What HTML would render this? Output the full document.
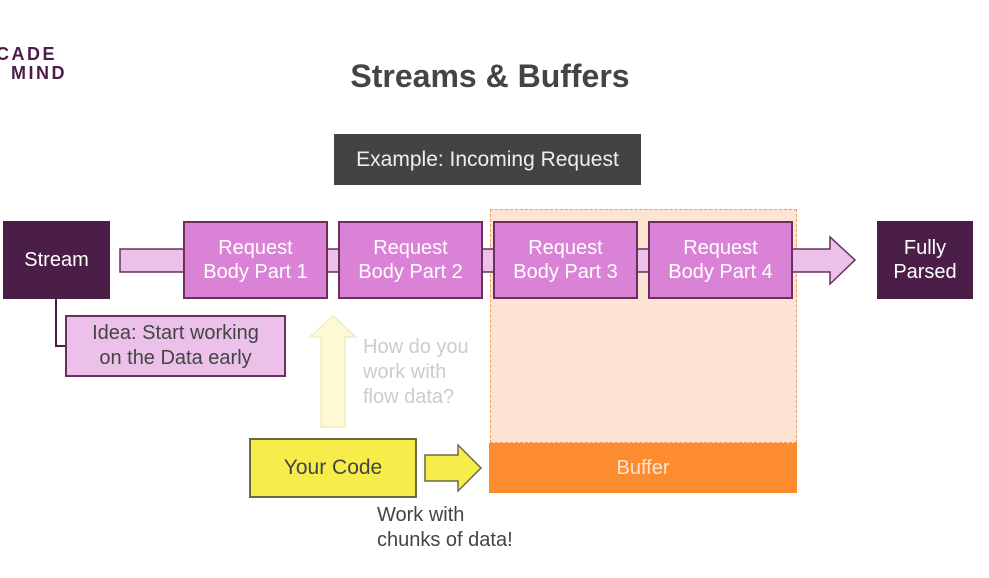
<!DOCTYPE html>
<html><head><meta charset="utf-8"><style>
html,body{margin:0;padding:0;background:#fff;}
body{width:989px;height:578px;position:relative;overflow:hidden;font-family:"Liberation Sans",sans-serif;}
.a{position:absolute;box-sizing:border-box;display:flex;align-items:center;justify-content:center;text-align:center;}
.rq{background:#da83d6;border:2px solid #6b2e5e;color:#fff;font-size:20px;line-height:24px;top:221px;height:78px;width:145px;}
.dk{background:#4a1e46;color:#fff;font-size:20px;line-height:24px;}
</style></head><body>
<div style="position:absolute;left:-4px;top:45px;font-weight:bold;font-size:18px;line-height:19px;color:#4a1e46;letter-spacing:2.5px;">CADE<br>&nbsp;&nbsp;MIND</div>
<div class="a" style="left:280px;top:55px;width:420px;height:42px;font-weight:bold;font-size:32px;color:#444;">Streams &amp; Buffers</div>
<div class="a" style="left:334px;top:134px;width:307px;height:51px;background:#434343;color:#eee;font-size:21px;">Example: Incoming Request</div>
<div style="position:absolute;left:490px;top:209px;width:307px;height:234px;background:#fde3d3;border:1.5px dashed #f39a5c;box-sizing:border-box;"></div>
<div class="a" style="left:489px;top:443px;width:308px;height:50px;background:#fd8b30;color:#fde3d3;font-size:20px;">Buffer</div>
<svg width="989" height="578" style="position:absolute;left:0;top:0">
<polygon points="120,249 830,249 830,237 855,260 830,284 830,272 120,272" fill="#ebc1ea" stroke="#6b2e5e" stroke-width="1.5"/>
<polyline points="56,298 56,346 66,346" fill="none" stroke="#4a1e46" stroke-width="2"/>
<polygon points="321,427 321,337 310,337 333,316 356,337 345,337 345,427" fill="#fdf9d4" stroke="#f0ebc0" stroke-width="1.5"/>
<polygon points="425,455 458,455 458,445 481,468 458,491 458,481 425,481" fill="#f7ed4a" stroke="#6b6a40" stroke-width="1.5"/>
</svg>
<div class="a dk" style="left:3px;top:221px;width:107px;height:78px;">Stream</div>
<div class="a dk" style="left:877px;top:221px;width:96px;height:78px;">Fully<br>Parsed</div>
<div class="a rq" style="left:183px;">Request<br>Body Part 1</div>
<div class="a rq" style="left:338px;">Request<br>Body Part 2</div>
<div class="a rq" style="left:493px;">Request<br>Body Part 3</div>
<div class="a rq" style="left:648px;">Request<br>Body Part 4</div>
<div class="a" style="left:65px;top:315px;width:221px;height:62px;background:#ebc1ea;border:2px solid #6b2e5e;color:#444;font-size:20px;line-height:25px;">Idea: Start working<br>on the Data early</div>
<div style="position:absolute;left:363px;top:335px;font-size:20px;line-height:25px;color:#ccc;">How do you<br>work with<br>flow data?</div>
<div class="a" style="left:249px;top:438px;width:168px;height:60px;background:#f7ed4a;border:2px solid #6b6a40;color:#444;font-size:21px;">Your Code</div>
<div style="position:absolute;left:377px;top:503px;font-size:20px;line-height:25px;color:#444;">Work with<br>chunks of data!</div>
</body></html>
